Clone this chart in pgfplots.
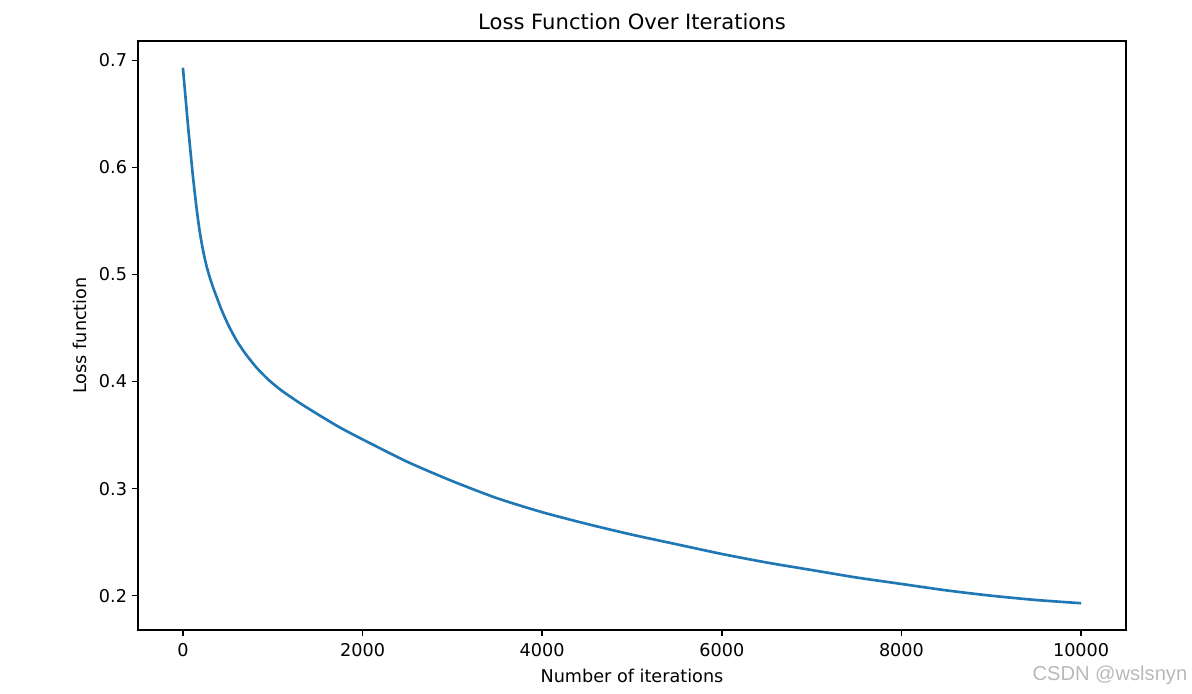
\documentclass[border=0pt]{standalone}
\usepackage{pgfplots}
\pgfplotsset{compat=1.18}
\usepackage{fontspec}
\setmainfont{DejaVu Sans}
\newfontfamily\wmfont{Liberation Sans}
\definecolor{mplblue}{HTML}{1F77B4}
\begin{document}
\begin{tikzpicture}
\begin{axis}[
  scale only axis,
  width=711.36pt, height=424.08pt,
  at={(0,0)}, anchor=south west,
  xmin=-500, xmax=10500,
  ymin=0.168, ymax=0.718,
  xtick={0,2000,4000,6000,8000,10000},
  ytick={0.2,0.3,0.4,0.5,0.6,0.7},
  scaled x ticks=false,
  axis line style={line width=1pt, black},
  tick style={line width=1pt, black},
  tick align=outside,
  xtick pos=bottom, ytick pos=left,
  major tick length=4.4pt,
  /pgf/number format/assume math mode=true,
  xticklabel style={font=\fontsize{12.7}{15}\selectfont, /pgf/number format/1000 sep={}, yshift=-1.5pt},
  yticklabel style={font=\fontsize{12.7}{15}\selectfont, /pgf/number format/fixed, /pgf/number format/precision=1, /pgf/number format/fixed zerofill},
  title={Loss Function Over Iterations},
  title style={font=\fontsize{15.2}{18}\selectfont, yshift=-1.5pt},
  xlabel={Number of iterations},
  ylabel={Loss function},
  label style={font=\fontsize{12.7}{15}\selectfont},
  xlabel style={yshift=-2pt},
  ylabel style={yshift=2pt},
  clip=false,
]
\addplot[mplblue, line width=1.9pt, smooth, tension=0.4] coordinates {
(0,0.693) (20,0.674) (40,0.655) (60,0.636) (83,0.616) (110,0.593) (139,0.571)
(167,0.552) (195,0.536) (230,0.520) (269,0.506) (315,0.493) (362,0.482)
(430,0.467) (510,0.452) (600,0.438) (696,0.426) (820,0.413) (955,0.4015)
(1100,0.3915) (1300,0.3800) (1500,0.3695) (1750,0.357) (2000,0.346) (2500,0.325) (3000,0.307)
(3500,0.291) (4000,0.278) (4500,0.267) (5000,0.257) (5500,0.248) (6000,0.239)
(6500,0.231) (7000,0.224) (7500,0.217) (8000,0.211) (8500,0.205) (9000,0.200)
(9500,0.196) (10000,0.193)
};
\end{axis}
\node[anchor=east, text=gray!55, font=\wmfont\fontsize{14.5}{16}\selectfont] at (759pt,-32.4pt) {CSDN @wslsnyn};
\path[use as bounding box] (-99.36pt,-46.08pt) rectangle (758.88pt,453.6pt);
\end{tikzpicture}
\end{document}
